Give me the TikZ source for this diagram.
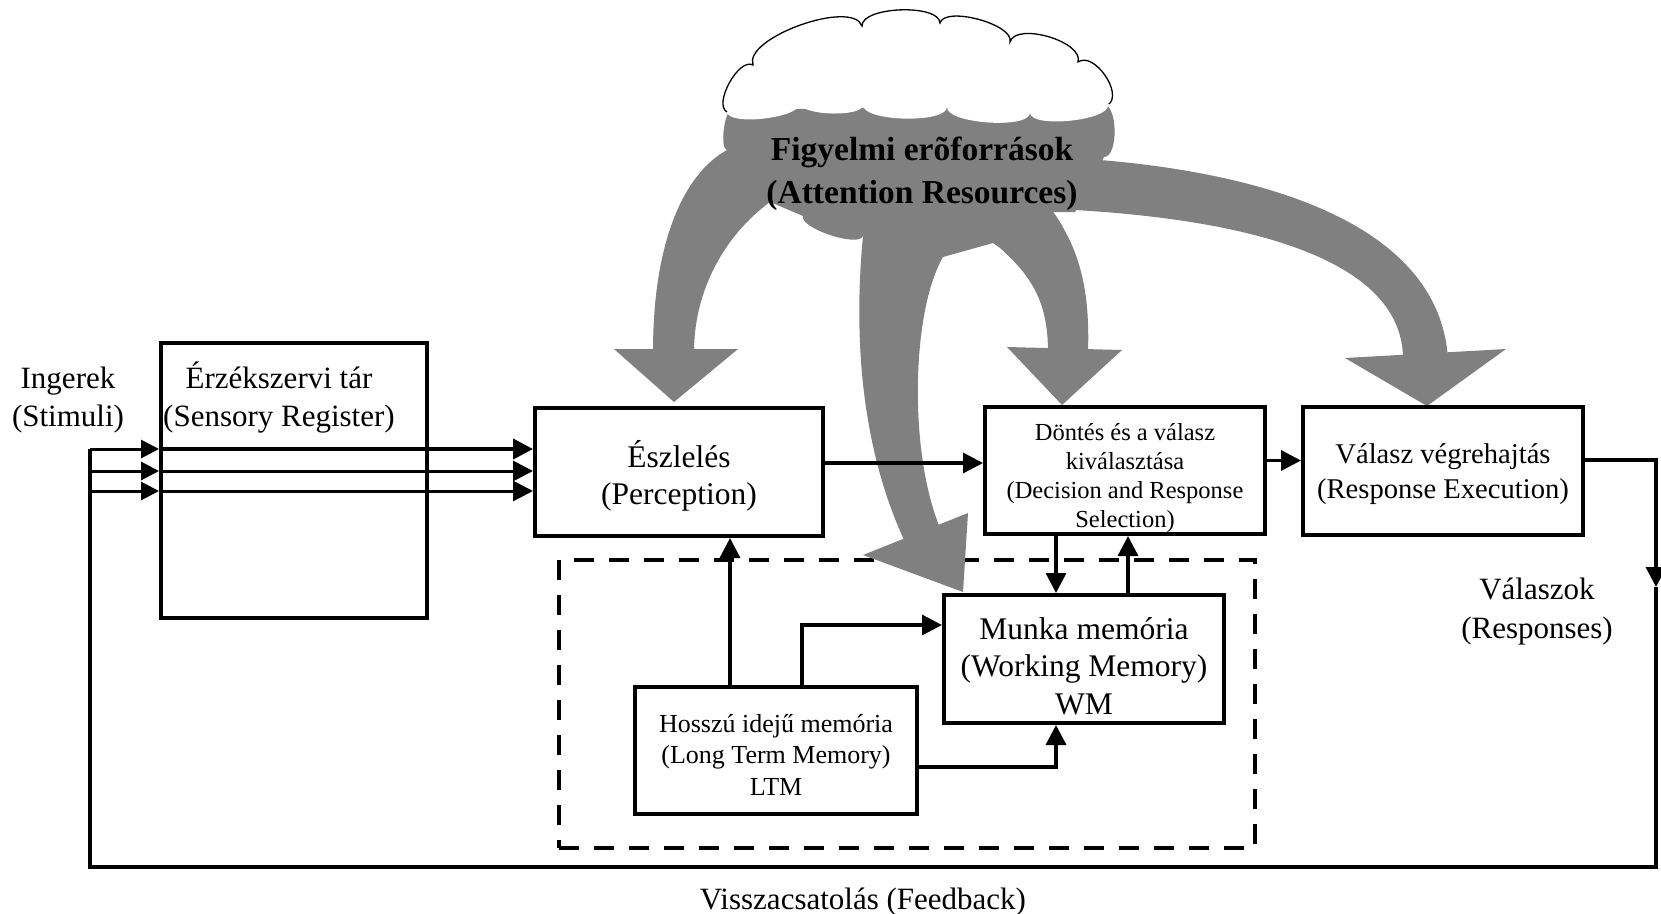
\documentclass[tikz,border=0pt]{standalone}
\usepackage{fontspec}
\setmainfont{Liberation Serif}
\usetikzlibrary{arrows.meta,calc}
\definecolor{cgray}{HTML}{808080}
\begin{document}
\begin{tikzpicture}[x=1pt,y=-1pt,
  box/.style={draw,line width=4pt,inner sep=0pt,align=center},
  conn/.style={line width=3.3pt},
  stim/.style={line width=3pt},
  arr/.style={-{Triangle[length=20pt,width=20pt]}},
  sarr/.style={-{Triangle[length=18pt,width=18pt]}},
  bump/.style={to path={.. controls ($(\tikztostart)!#1!90:(\tikztotarget)$) and ($(\tikztotarget)!#1!-90:(\tikztostart)$) .. (\tikztotarget)}},
  txt/.style={inner sep=0pt,align=center},
  f31/.style={font=\fontsize{31}{38}\selectfont},
]
\useasboundingbox (0,0) rectangle (1661,913);

% dashed group
\node[draw,line width=4pt,dash pattern=on 20pt off 15pt,minimum width=696pt,minimum height=288pt,inner sep=0pt] (grp) at (907,704) {};

% gray cloud body
\fill[cgray] (732,110) -- (1103,104) to[bump=0.28] (1104,157) -- (1075,212) -- (1052,212) -- (1000,248) -- (993,243) -- (943,257) -- (863,236) to[bump=0.2] (803,216) -- (770,202) -- (727,150) to[bump=0.19] (732,110) -- cycle;
% gray arrows
\fill[cgray] (727,150) .. controls (690,170) and (653,230) .. (653,352) -- (694,352) .. controls (694,290) and (725,235) .. (770,202) -- (790,170) -- cycle;
\fill[cgray] (614,349) -- (738,349) -- (674,402) -- cycle;
\fill[cgray] (863,236) .. controls (853,340) and (862,450) .. (905,542) -- (940,528) .. controls (908,450) and (912,310) .. (943,257) -- (905,200) -- cycle;
\fill[cgray] (863,555) -- (968,513) -- (963,592) -- cycle;
\fill[cgray] (1000,248) .. controls (1030,275) and (1048,300) .. (1048,352) -- (1088,352) .. controls (1090,290) and (1080,250) .. (1052,210) -- (1020,195) -- cycle;
\fill[cgray] (1007,347) -- (1122,350) -- (1062,405) -- cycle;
\fill[cgray] (1100,160) .. controls (1280,175) and (1440,230) .. (1448,359) -- (1403,359) .. controls (1403,270) and (1280,222) .. (1075,210) -- (1060,180) -- cycle;
\fill[cgray] (1345,358) -- (1506,349) -- (1427,406) -- cycle;

% white cloud
\fill[white] (727,112) to[bump=0.3] (753,65) to[bump=0.25] (862,26) to[bump=0.25] (940,23) to[bump=0.25] (1010,42) to[bump=0.3] (1078,62) to[bump=0.37] (1108,105) to[bump=0.2] (1030,113) to[bump=0.2] (947,107) to[bump=0.2] (863,105) to[bump=0.2] (800,103) to[bump=0.2] (727,112) -- cycle;
\begin{scope}
\clip (690,0) -- (1140,0) -- (1140,104) -- (1098,104) -- (1098,99) -- (760,99) -- (760,114) -- (690,114) -- cycle;
\draw[line width=1.3pt] (727,112) to[bump=0.3] (753,65) to[bump=0.25] (862,26) to[bump=0.25] (940,23) to[bump=0.25] (1010,42) to[bump=0.3] (1078,62) to[bump=0.37] (1108,105);
\end{scope}
\node[txt,font=\fontsize{33.5}{43}\selectfont\bfseries] (attn) at (922,173.5) {Figyelmi erõforrások\\(Attention Resources)};

% boxes
\node[box,minimum width=266pt,minimum height=275pt] (sens) at (294,480.5) {};
\node[box,minimum width=288pt,minimum height=128pt,
  label={[txt,font=\fontsize{31.5}{37}\selectfont,yshift=-4pt]center:{Észlelés\\(Perception)}}] (perc) at (679,472) {};
\node[box,minimum width=280pt,minimum height=127pt,
  label={[txt,font=\fontsize{24.5}{29}\selectfont,yshift=-7.5pt]center:{Döntés és a válasz\\kiválasztása\\(Decision and Response\\Selection)}}] (dec) at (1125,470.5) {};
\node[box,minimum width=280pt,minimum height=128pt,
  label={[txt,font=\fontsize{28.6}{35}\selectfont,yshift=-3pt]center:{Válasz végrehajtás\\(Response Execution)}}] (resp) at (1443,471) {};
\node[box,minimum width=280pt,minimum height=128pt,
  label={[txt,font=\fontsize{31.5}{37.5}\selectfont,yshift=-7pt]center:{Munka memória\\(Working Memory)\\WM}}] (wm) at (1084,659) {};
\node[box,minimum width=282pt,minimum height=127pt,
  label={[txt,font=\fontsize{26}{31.5}\selectfont,yshift=-4pt]center:{Hosszú idejű memória\\(Long Term Memory)\\LTM}}] (ltm) at (776,750.5) {};

% free texts
\node[txt,f31] (ing) at (68,400.5) {Ingerek\\(Stimuli)};
\node[txt,f31] (senst) at (279,398) {Érzékszervi tár\\(Sensory Register)};
\node[txt,font=\fontsize{31}{39}\selectfont] (vlsz) at (1537,612) {Válaszok\\(Responses)};
\node[txt,f31] (fb) at (863,902) {Visszacsatolás (Feedback)};

% coordinates
\coordinate (rc) at (1656,460);
\coordinate (rd) at (1656,587);
\coordinate (fbR) at (1656,867);
\coordinate (fbL) at (90,867);
\coordinate (s1) at (90,449);
\coordinate (s2) at (90,471);
\coordinate (s3) at (90,491);

% stimuli and feedback
\draw[stim,sarr] (s1) -- (s1 -| sens.west);
\draw[stim,sarr] (s2) -- (s2 -| sens.west);
\draw[stim,sarr] (s3) -- (s3 -| sens.west);
\draw[line width=4pt,arr] (s1 -| sens.west) -- (s1 -| perc.west);
\draw[stim,arr] (s2 -| sens.west) -- (s2 -| perc.west);
\draw[stim,arr] (s3 -| sens.west) -- (s3 -| perc.west);
\draw[conn,arr] (resp.east |- rc) -- (rc) -- (rd);
\draw[conn] (rd) -- (fbR) -- (fbL) -- (s1);

% main connectors
\draw[conn,arr] ([yshift=9pt]perc.east) -- ([yshift=9pt]perc.east -| dec.west);
\draw[conn,arr] ([yshift=10pt]dec.east) -- ([yshift=10pt]dec.east -| resp.west);
\draw[conn,arr] ([xshift=-28pt]wm.north |- dec.south) -- ([xshift=-28pt]wm.north);
\draw[conn,arr] ([xshift=44pt]wm.north) -- ([xshift=44pt]wm.north |- dec.south);
\draw[conn,arr] ([xshift=-46pt]ltm.north) -- ([xshift=-46pt]ltm.north |- perc.south);
\draw[conn,arr] ([xshift=26pt]ltm.north) |- ([yshift=34pt]wm.west);
\draw[conn,arr] ([yshift=-16.5pt]ltm.east) -| ([xshift=-28pt]wm.south);
\end{tikzpicture}
\end{document}
